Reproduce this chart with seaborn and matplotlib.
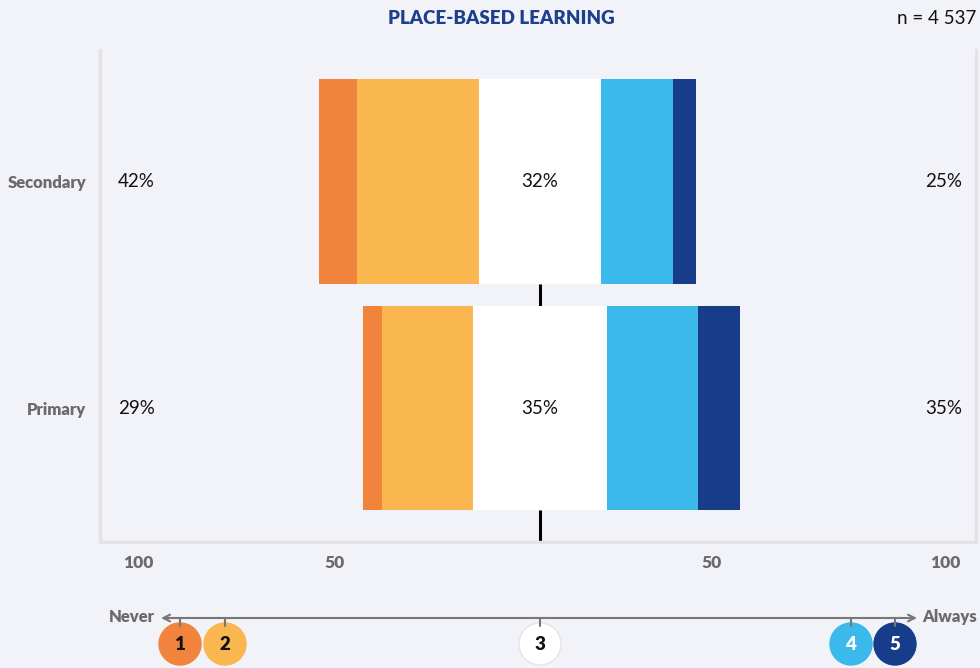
import numpy as np
import pandas as pd
import matplotlib
matplotlib.use("Agg")
import matplotlib.pyplot as plt
import seaborn as sns

# Survey responses, share of respondents per answer (1 = Never ... 5 = Always)
levels = ["Secondary", "Primary"]
never = [10, 5]          # 1
rarely = [32, 24]        # 2
neutral = [32, 35]       # 3
often = [19, 24]         # 4
always = [6, 11]         # 5
left_totals = ["42%", "29%"]
mid_labels = ["32%", "35%"]
right_totals = ["25%", "35%"]
tick_labels = ["100", "50", "50", "100"]
title = "PLACE-BASED LEARNING"
n_label = "n = 4 537"

BG = "#f2f3f8"
SPINE = "#e3e3e6"
GREY = "#6b6b6b"
colors = ["#f0843c", "#fab64f", "#ffffff", "#3bb9ea", "#173d8a"]

sns.set_theme(style="white")
plt.rcParams["font.family"] = ["Lato", "DejaVu Sans"]

df = pd.DataFrame({"level": levels, "never": never, "rarely": rarely,
                   "neutral": neutral, "often": often, "always": always})

# left edge of each segment: the neutral block is centred on zero
start = -(df["never"] + df["rarely"] + df["neutral"] / 2)
segments = ["never", "rarely", "neutral", "often", "always"]

fig = plt.figure(figsize=(9.8, 6.68), dpi=100, facecolor=BG)
ax = fig.add_axes([100 / 980, 1 - 542 / 668, 876 / 980, 492 / 668])
ax.set_facecolor(BG)

bar_h = 0.9
edge = start.copy()
for seg, col in zip(segments, colors):
    sns.barplot(data=df, y="level", x=seg, order=levels, orient="h",
                color=col, saturation=1, width=bar_h, left=edge.values,
                edgecolor="none", linewidth=0, ax=ax, zorder=3)
    edge = edge + df[seg]

# centre marker below each bar
for i in range(len(levels)):
    ax.plot([0, 0], [i + bar_h / 2, i + bar_h / 2 + 0.14], color="black",
            lw=2.2, zorder=2, solid_capstyle="butt")

ax.set_xlim(-115.5, 114.5)
ax.set_ylim(1.59, -0.58)

# labels with totals and neutral share
for i in range(len(levels)):
    ax.text(-106, i, left_totals[i], ha="center", va="center", fontsize=13.5, color="#111111")
    ax.text(0, i, mid_labels[i], ha="center", va="center", fontsize=13.5, color="#111111", zorder=4)
    ax.text(106, i, right_totals[i], ha="center", va="center", fontsize=13.5, color="#111111")

ax.set_xticks([-105.5, -54, 45, 106.5])
ax.set_xticklabels(tick_labels, fontsize=12.5, fontweight="heavy", color=GREY)
ax.set_yticks(range(len(levels)))
ax.set_yticklabels(levels, fontsize=12, fontweight="heavy", color=GREY)
ax.tick_params(axis="x", length=0, pad=9)
ax.tick_params(axis="y", length=0, pad=10)
ax.set_xlabel("")
ax.set_ylabel("")

for side in ["left", "bottom", "right"]:
    ax.spines[side].set_visible(True)
    ax.spines[side].set_color(SPINE)
    ax.spines[side].set_linewidth(2.4)
ax.spines["top"].set_visible(False)

fig.text(501 / 980, 1 - 18 / 668, title, ha="center", va="center", fontsize=13.5,
         fontweight="heavy", color="#1d3f8c")
fig.text(976 / 980, 1 - 19 / 668, n_label, ha="right", va="center", fontsize=13.5, color="#111111")

# answer scale key along the bottom
key = fig.add_axes([0, 0, 1, 1], facecolor="none")
key.set_xlim(0, 980)
key.set_ylim(668, 0)
key.axis("off")
key.annotate("", xy=(161, 618), xytext=(540, 618),
             arrowprops=dict(arrowstyle="->", color="#777777", lw=1.5, shrinkA=0, shrinkB=0))
key.annotate("", xy=(917, 618), xytext=(540, 618),
             arrowprops=dict(arrowstyle="->", color="#777777", lw=1.5, shrinkA=0, shrinkB=0))
key.text(155, 617, "Never", ha="right", va="center", fontsize=12, fontweight="heavy", color=GREY)
key.text(922, 617, "Always", ha="left", va="center", fontsize=12, fontweight="heavy", color=GREY)
key_x = [180, 225, 540, 851, 895]
num_colors = ["#111111", "#111111", "#111111", "white", "white"]
for k, (x, col, tc) in enumerate(zip(key_x, colors, num_colors)):
    key.plot([x, x], [618, 626], color="#777777", lw=1.5)
    key.add_patch(plt.Circle((x, 644), 21, facecolor=col,
                             edgecolor="#e6e6e6" if col == "#ffffff" else col, lw=1))
    key.text(x, 645, str(k + 1), ha="center", va="center", fontsize=13.5,
             fontweight="heavy", color=tc)

fig.savefig("out.png", dpi=100, facecolor=BG)
